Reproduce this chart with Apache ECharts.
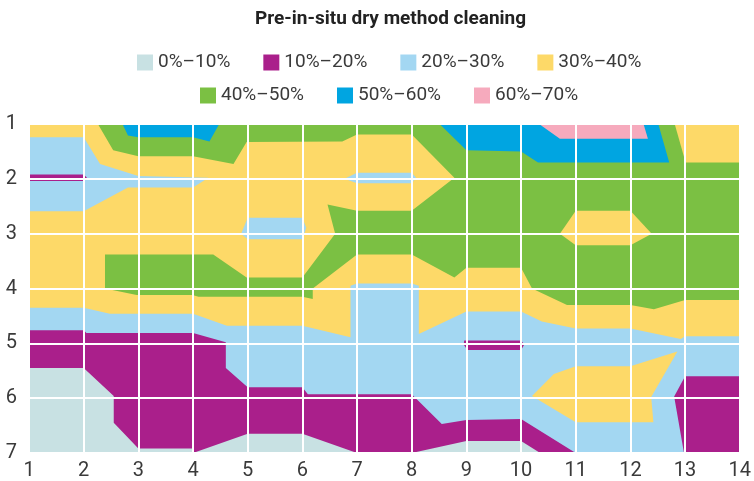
<!DOCTYPE html>
<html>
<head>
<meta charset="utf-8">
<script src="https://cdn.jsdelivr.net/npm/echarts@6/dist/echarts.min.js"></script>
<style>
  html, body { margin: 0; padding: 0; background: #fff; }
  #chart { width: 754px; height: 481px; }
</style>
</head>
<body>
<div id="chart"></div>
<script>
// axis ticks
const xTicks = [1, 2, 3, 4, 5, 6, 7, 8, 9, 10, 11, 12, 13, 14];
const yTicks = [1, 2, 3, 4, 5, 6, 7];

// contour bands (legend order)
const levelNames = ['0%–10%', '10%–20%', '20%–30%', '30%–40%', '40%–50%', '50%–60%', '60%–70%'];
const levelColors = ['#c8e1e3', '#aa1f8b', '#a3d7f2', '#fdd968', '#7bc043', '#00a5e1', '#f6aabd'];

// band outlines, [x, y] in axis units
const tealArea = [[1, 1], [14, 1], [14, 7], [1, 7]];
const purpleArea = [[1, 1], [14, 1], [14, 7], [10.35, 7], [10, 6.78], [9, 6.78], [8, 7], [7, 7],
  [6, 6.65], [5, 6.65], [4, 7], [4, 6.92], [3, 6.92], [2.55, 6.45], [2.55, 5.96], [2, 5.45], [1, 5.45]];
const lightBlueArea = [[1, 1], [14, 1], [14, 5.6], [13, 5.6], [12.8, 5.97], [12.98, 7], [11, 7],
  [10, 6.38], [9, 6.4], [8.55, 6.47], [8, 5.93], [6.1, 5.93], [6, 5.8], [5, 5.8], [4.6, 5.45],
  [4.6, 4.98], [4, 4.81], [2.05, 4.81], [2, 4.76], [1, 4.76]];
const yellowArea = [[1, 1], [14, 1], [14, 4.87], [13, 4.87], [12.92, 4.92], [12, 4.73], [11, 4.73],
  [10.38, 4.6], [10, 4.42], [9, 4.42], [8.13, 4.83], [8.13, 3.95], [8, 3.91], [7, 3.91], [6.88, 3.95],
  [6.88, 4.89], [6, 4.68], [4.62, 4.68], [4, 4.46], [2.48, 4.46], [2, 4.35], [1, 4.35]];
const greenArea = [[2.26, 1], [14, 1], [14, 4.21], [13, 4.21], [12.43, 4.38], [12, 4.3], [10.84, 4.3],
  [10.2, 4.0], [10, 3.62], [9, 3.62], [8.78, 3.8], [8, 3.38], [7, 3.38], [6.19, 4.0], [6.19, 4.19],
  [6, 4.15], [4.1, 4.15], [3.99, 4.12], [2.97, 4.12], [2.39, 4.0], [2.39, 3.38], [4.37, 3.38],
  [4.98, 3.8], [6, 3.8], [6.6, 3.0], [6.46, 2.47], [7, 2.58], [8, 2.58], [8.78, 1.98], [8, 1.19],
  [7, 1.19], [6.73, 1.32], [4.98, 1.33], [4.74, 1.73], [4, 1.59], [3, 1.59], [2.54, 1.48]];
const blueLeft = [[2.71, 1], [4.48, 1], [4.3, 1.32], [4, 1.24], [3, 1.24], [2.81, 1.21]];
const blueRight = [[8.51, 1], [12.51, 1], [12.71, 1.7], [10.31, 1.7], [10, 1.5], [9, 1.48]];
const pinkTop = [[10.33, 1], [12.24, 1], [12.32, 1.27], [10.71, 1.27]];

// islands sitting on top of other bands
const yellowInGreen = [[10.71, 3.0], [11, 2.58], [12, 2.58], [12.39, 3.0], [12, 3.21], [11, 3.21]];
const yellowCorner = [[12.81, 1], [14, 1], [14, 1.7], [13.01, 1.7]];
const yellowInBlue = [[10.2, 5.96], [10.6, 5.56], [11, 5.42], [12, 5.42], [12.86, 5.15], [12.38, 5.98],
  [12.42, 6.44], [11, 6.44]];
const lightBlueLeft = [[1, 1.24], [2, 1.24], [2.3, 1.73], [3, 1.95], [4.28, 1.98], [4, 2.16],
  [2.81, 2.16], [2, 2.59], [1, 2.59]];
const lightBlueMid = [[4.88, 3.0], [5, 2.71], [6, 2.71], [6.07, 2.89], [6, 3.1], [5, 3.1]];
const lightBlueRight = [[6.77, 2.0], [7, 1.89], [8, 1.89], [8.08, 1.98], [8, 2.08], [7, 2.08]];
const purpleStripTop = [[1, 1.92], [2, 1.92], [2.06, 1.98], [2, 2.04], [1, 2.04]];
const purpleStripMid = [[8.96, 4.95], [10, 4.95], [10.06, 5.02], [10, 5.12], [9.02, 5.12], [8.95, 5.02]];

const FONT = "Roboto, 'Liberation Sans', sans-serif";

function bandSeries(level, shapes, z) {
  const color = levelColors[level];
  return {
    name: levelNames[level],
    type: 'custom',
    coordinateSystem: 'cartesian2d',
    z: z,
    silent: true,
    itemStyle: { color: color },
    data: shapes.map(s => s[0]),
    renderItem: function (params, api) {
      const pts = shapes[params.dataIndex].map(p => api.coord(p));
      return { type: 'polygon', shape: { points: pts }, style: { fill: color } };
    }
  };
}

const chart = echarts.init(document.getElementById('chart'));
chart.setOption({
  animation: false,
  title: {
    text: 'Pre-in-situ dry method cleaning',
    left: 250,
    top: 5,
    textStyle: { fontFamily: FONT, fontSize: 19, fontWeight: 'bold', color: '#222' }
  },
  legend: [{
    data: levelNames.slice(0, 4),
    left: 137, top: 53, padding: 0,
    icon: 'rect', itemWidth: 16, itemHeight: 16, itemGap: 33,
    textStyle: { fontFamily: FONT, fontSize: 19, color: '#3a3a3a' }
  }, {
    data: levelNames.slice(4),
    left: 200, top: 86, padding: 0,
    icon: 'rect', itemWidth: 16, itemHeight: 16, itemGap: 33,
    textStyle: { fontFamily: FONT, fontSize: 19, color: '#3a3a3a' }
  }],
  grid: { left: 29, right: 14, top: 124, bottom: 27 },
  xAxis: {
    type: 'value', min: xTicks[0], max: xTicks[xTicks.length - 1], interval: 1, z: 20,
    axisLine: { show: false }, axisTick: { show: false },
    splitLine: { show: true, lineStyle: { color: '#fff', width: 2 } },
    axisLabel: { fontFamily: FONT, fontSize: 20, color: '#3a3a3a', margin: 8 }
  },
  yAxis: {
    type: 'value', min: yTicks[0], max: yTicks[yTicks.length - 1], interval: 1, inverse: true, z: 20,
    axisLine: { show: false }, axisTick: { show: false },
    splitLine: { show: true, lineStyle: { color: '#fff', width: 2 } },
    axisLabel: { fontFamily: FONT, fontSize: 20, color: '#3a3a3a', margin: 12 }
  },
  series: [
    bandSeries(0, [tealArea], 1),
    bandSeries(1, [purpleArea], 2),
    bandSeries(2, [lightBlueArea], 3),
    bandSeries(3, [yellowArea], 4),
    bandSeries(4, [greenArea], 5),
    bandSeries(5, [blueLeft, blueRight], 6),
    bandSeries(6, [pinkTop], 7),
    bandSeries(3, [yellowInGreen, yellowCorner, yellowInBlue], 8),
    bandSeries(2, [lightBlueLeft, lightBlueMid, lightBlueRight], 8),
    bandSeries(1, [purpleStripTop, purpleStripMid], 9)
  ]
});
</script>
</body>
</html>
